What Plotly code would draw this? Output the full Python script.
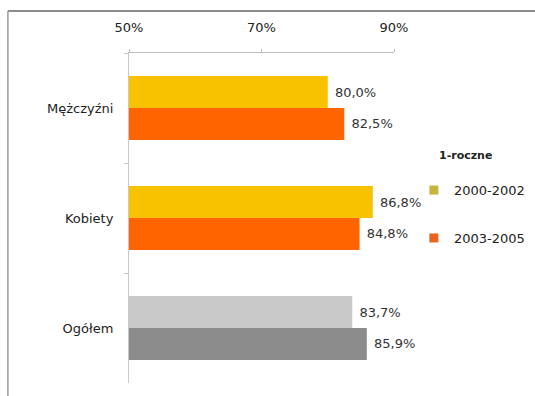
import plotly.graph_objects as go

categories = ["Mężczyźni", "Kobiety", "Ogółem"]
series_names = ["2000-2002", "2003-2005"]
values_2000_2002 = [80.0, 86.8, 83.7]
values_2003_2005 = [82.5, 84.8, 85.9]
legend_title = "1-roczne"
x_ticks = [50, 70, 90]
x_tick_labels = ["50%", "70%", "90%"]

colors_a = ["#F8C200", "#F8C200", "#C9C9C9"]
colors_b = ["#FF6400", "#FF6400", "#8C8C8C"]
legend_colors = ["#C8B43C", "#E8641E"]

FONT = "DejaVu Sans"

def fmt(v):
    return " " + f"{v:.1f}".replace(".", ",") + "%"

fig = go.Figure()
for vals, cols, name in [(values_2000_2002, colors_a, series_names[0]),
                         (values_2003_2005, colors_b, series_names[1])]:
    fig.add_trace(go.Bar(
        y=categories, x=vals, base=0, orientation="h", name=name,
        marker=dict(color=cols, line=dict(width=0)),
        text=[fmt(v) for v in vals], textposition="outside",
        textfont=dict(family=FONT, size=13, color="#333333"),
        cliponaxis=False, showlegend=False,
    ))

for name, c in zip(series_names, legend_colors):
    fig.add_trace(go.Scatter(
        x=[None], y=[None], mode="markers", name=name, legendgroup=name,
        marker=dict(symbol="square", size=9, color=c),
    ))

fig.update_layout(
    width=535, height=396,
    margin=dict(l=129, r=141, t=53, b=13, autoexpand=False),
    paper_bgcolor="white", plot_bgcolor="white",
    barmode="group", bargap=0.42, bargroupgap=0,
    font=dict(family=FONT, color="#333333", size=12),
    legend=dict(
        x=1.075, y=0.63, xanchor="left", yanchor="top",
        font=dict(family=FONT, size=13, color="#222222"),
        traceorder="grouped", tracegroupgap=28, itemwidth=30,
        bgcolor="rgba(0,0,0,0)",
    ),
    annotations=[dict(
        text="<b>" + legend_title + "</b>", xref="paper", yref="paper",
        x=1.27, y=0.69, xanchor="center", yanchor="middle", showarrow=False,
        font=dict(family=FONT, size=11, color="#222222"),
    )],
    xaxis=dict(
        side="top", range=[50, 90], tickvals=x_ticks, ticktext=x_tick_labels,
        showgrid=False, zeroline=False, showline=True, linecolor="#BDBDBD",
        linewidth=1, ticks="outside", ticklen=3, tickcolor="#BDBDBD",
        tickfont=dict(family=FONT, size=13, color="#222222"),
        ticklabelstandoff=12,
    ),
    yaxis=dict(
        autorange="reversed", showgrid=False, zeroline=False,
        showline=True, linecolor="#C8C8C8", linewidth=1,
        ticks="outside", tickson="boundaries", ticklen=4, tickcolor="#C8C8C8",
        tickfont=dict(family=FONT, size=13, color="#222222"),
        ticklabelstandoff=12,
    ),
    shapes=[
        dict(type="line", xref="paper", yref="paper",
             x0=-0.457, x1=1.6, y0=1.127, y1=1.127,
             line=dict(color="#666666", width=1.5)),
        dict(type="line", xref="paper", yref="paper",
             x0=-0.457, x1=-0.457, y0=1.127, y1=-0.1,
             line=dict(color="#9A9A9A", width=1.5)),
    ],
)

fig.write_html("out.html")
